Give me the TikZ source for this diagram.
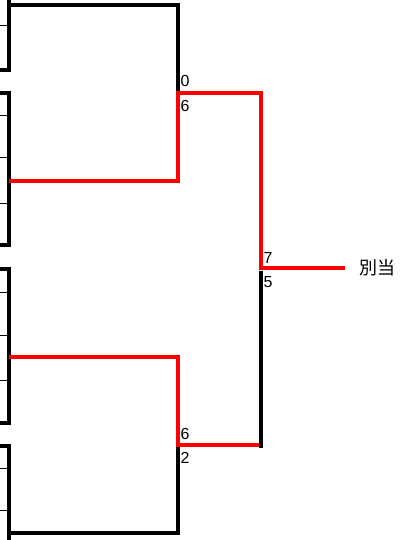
\documentclass[tikz,border=0pt]{standalone}
\usepackage{fontspec}
\setmainfont{Liberation Sans}
\newfontfamily\cjk{Noto Sans CJK JP}
\usetikzlibrary{calc}

\begin{document}
\begin{tikzpicture}[x=1pt,y=-1pt]
                    \useasboundingbox (0,0) rectangle (406,540);
                    \tikzset{line/.style={line width=4pt,black},win/.style={line width=4.5pt,red},tick/.style={line width=1pt},score/.style={anchor=west,inner sep=0pt,font=\fontsize{16}{16}\selectfont}}
                    \coordinate (a) at (9,5.5);
                    \coordinate (b) at (9,181);
                    \coordinate (c) at (9,357);
                    \coordinate (d) at (9,533);
                    \coordinate (ab) at (178,93);
                    \coordinate (cd) at (178,445);
                    \coordinate (top) at (261,268);
                    \coordinate (end) at (345,268);
                    \draw[line] (9,0) -- (9,70) -- (0,70);
                    \draw[line] (0,93) -- (9,93) -- (9,245) -- (0,245);
                    \draw[line] (0,269) -- (9,269) -- (9,423) -- (0,423);
                    \draw[line] (0,446) -- (9,446) -- (9,540);
                    \draw[tick] (0,26) -- (9,26);
                    \draw[tick] (0,116) -- (9,116);
                    \draw[tick] (0,158) -- (9,158);
                    \draw[tick] (0,203) -- (9,203);
                    \draw[tick] (0,292) -- (9,292);
                    \draw[tick] (0,335) -- (9,335);
                    \draw[tick] (0,380) -- (9,380);
                    \draw[tick] (0,468) -- (9,468);
                    \draw[tick] (0,510) -- (9,510);
                    \draw[line] (a) -- (a -| ab) -- (ab);
                    \draw[line] (d) -- (d -| cd) -- (cd);
                    \draw[win] (b) -- (b -| ab) -- (ab) -- (ab -| top) -- (top) -- (end);
                    \draw[win] (c) -- (c -| cd) -- (cd) -- (cd -| top);
                    \draw[line] ($(top)+(0,2.5)$) -- ($(cd -| top)+(0,2.5)$);
                    \node[score] (s1) at (180.5,81) {0};
                    \node[score] (s2) at (180.5,106) {6};
                    \node[score] (s3) at (180.5,434) {6};
                    \node[score] (s4) at (180.5,457.5) {2};
                    \node[score] (s5) at (263.5,258) {7};
                    \node[score] (s6) at (263.5,282) {5};
                    \node[anchor=west,inner sep=0pt,font=\cjk\fontsize{18}{18}\selectfont] (name) at (359,268) {別当};
                \end{tikzpicture}
\end{document}
